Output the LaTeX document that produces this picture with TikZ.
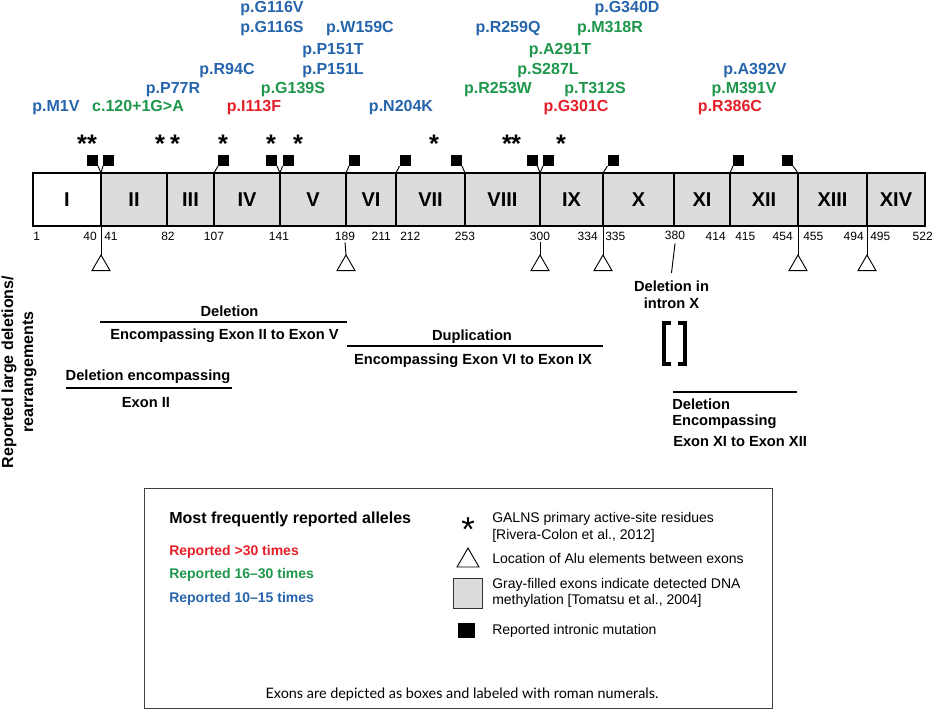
\documentclass[tikz,border=0pt]{standalone}
\usepackage{fontspec}
\setmainfont{Liberation Sans}
\newfontfamily\capfont{Lato}
\usetikzlibrary{shapes.geometric}
\definecolor{mblue}{RGB}{38,100,172}
\definecolor{mgreen}{RGB}{30,150,75}
\definecolor{mred}{RGB}{230,30,40}
\definecolor{exgray}{RGB}{220,220,220}
\begin{document}
\begin{tikzpicture}[x=0.75pt,y=-0.75pt,
  mut/.style={font=\fontsize{12}{14}\selectfont\bfseries, inner sep=0pt, anchor=base},
  exon/.style={draw, line width=0.9pt, fill=exgray, minimum height=39.75pt, inner sep=0pt, outer sep=0pt, anchor=west, font=\fontsize{15}{18}\selectfont\bfseries},
  num/.style={font=\fontsize{9}{11}\selectfont, inner sep=0pt},
  imut/.style={fill=black, minimum size=8.25pt, inner sep=0pt, outer sep=0pt},
  alu/.style={draw, line width=0.7pt, regular polygon, regular polygon sides=3, minimum size=15.6pt, inner sep=0pt, outer sep=0pt, anchor=corner 1},
  conn/.style={line width=0.7pt},
  ast/.style={font=\fontsize{19}{21}\selectfont\bfseries, inner sep=0pt, anchor=base},
  dl/.style={font=\fontsize{11}{12.75}\selectfont\bfseries, inner sep=0pt},
  bar/.style={line width=1.5pt},
  legt/.style={font=\fontsize{10.5}{12.75}\selectfont, inner sep=0pt, anchor=base west},
  legc/.style={font=\fontsize{10.5}{12.75}\selectfont\bfseries, inner sep=0pt, anchor=base west},
  brk/.style={line width=2.8pt}
]
\useasboundingbox (0,0) rectangle (933,711);

% ---------------- exons ----------------
\foreach \n/\a/\b/\lab/\f in {1/33/101/I/white, 2/101/167/II/exgray, 3/167/214/III/exgray,
  4/214/280/IV/exgray, 5/280/346/V/exgray, 6/346/396/VI/exgray, 7/396/465/VII/exgray,
  8/465/540/VIII/exgray, 9/540/603/IX/exgray, 10/603/674/X/exgray, 11/674/730/XI/exgray,
  12/730/798/XII/exgray, 13/798/867/XIII/exgray, 14/867/925/XIV/exgray}{
  \node[exon, fill=\f, minimum width={(\b-\a)*0.75pt}] (e\n) at (\a,199.5) {\lab};
}

% ---------------- numbers ----------------
\node[num, anchor=base west] (n1) at (33,240) {1};
\node[num, anchor=base east] (n40) at (97,240) {40};
\node[num, anchor=base west] (n41) at (104,240) {41};
\node[num, anchor=base] (n82) at (168,240) {82};
\node[num, anchor=base] (n107) at (214,240) {107};
\node[num, anchor=base] (n141) at (279,240) {141};
\node[num, anchor=base] (n189) at (345,240) {189};
\node[num, anchor=base east] (n211) at (391,240) {211};
\node[num, anchor=base west] (n212) at (400,240) {212};
\node[num, anchor=base] (n253) at (465,240) {253};
\node[num, anchor=base] (n300) at (540,240) {300};
\node[num, anchor=base east] (n334) at (598,240) {334};
\node[num, anchor=base west] (n335) at (605,240) {335};
\node[num, anchor=base] (n380) at (675,239) {380};
\node[num, anchor=base east] (n414) at (726,240) {414};
\node[num, anchor=base west] (n415) at (735,240) {415};
\node[num, anchor=base east] (n454) at (793,240) {454};
\node[num, anchor=base west] (n455) at (803,240) {455};
\node[num, anchor=base east] (n494) at (864,240) {494};
\node[num, anchor=base west] (n495) at (870,240) {495};
\node[num, anchor=base east] (n522) at (933,240) {522};

% ---------------- Alu elements ----------------
\node[alu] (t1) at (101,255) {};
\node[alu] (t2) at (346,255) {};
\node[alu] (t3) at (540,255) {};
\node[alu] (t4) at (603,255) {};
\node[alu] (t5) at (798,255) {};
\node[alu] (t6) at (867,255) {};
\draw[conn] (e1.south east) -- (t1.corner 1);
\draw[conn] ([yshift=-1.5pt]n189.south) -- (t2.corner 1);
\draw[conn] ([yshift=-1.5pt]n300.south) -- (t3.corner 1);
\draw[conn] (e9.south east) -- (t4.corner 1);
\draw[conn] (e12.south east) -- (t5.corner 1);
\draw[conn] (e13.south east) -- (t6.corner 1);

% ---------------- intronic mutations ----------------
\node[imut] (s1) at (92.5,160.5) {};
\node[imut] (s2) at (108.5,160.5) {};
\node[imut] (s3) at (223.5,160.5) {};
\node[imut] (s4) at (271.5,160.5) {};
\node[imut] (s5) at (288,160.5) {};
\node[imut] (s6) at (354.5,160.5) {};
\node[imut] (s7) at (405,160.5) {};
\node[imut] (s8) at (456.5,160.5) {};
\node[imut] (s9) at (532,160.5) {};
\node[imut] (s10) at (548.5,160.5) {};
\node[imut] (s11) at (613,160.5) {};
\node[imut] (s12) at (738.5,160.5) {};
\node[imut] (s13) at (787.5,160.5) {};
\draw[conn] (s1.south east) -- (e1.north east);
\draw[conn] (s2.south west) -- (e2.north west);
\draw[conn] (s3.south west) -- (e4.north west);
\draw[conn] (s4.south east) -- (e4.north east);
\draw[conn] (s5.south west) -- (e5.north west);
\draw[conn] (s6.south west) -- (e6.north west);
\draw[conn] (s7.south west) -- (e7.north west);
\draw[conn] (s8.south east) -- (e8.north west);
\draw[conn] (s9.south east) -- (e8.north east);
\draw[conn] (s10.south west) -- (e9.north west);
\draw[conn] (s11.south west) -- (e10.north west);
\draw[conn] (s12.south west) -- (e12.north west);
\draw[conn] (s13.south east) -- (e13.north west);

% ---------------- asterisks ----------------
\foreach \i/\x in {1/82,2/92,3/160,4/175,5/223,6/271,7/298,8/434,9/507,10/516,11/561}{
  \node[ast] (a\i) at (\x,152.5) {*};
}

% ---------------- mutation labels ----------------
\node[mut, mblue] (g116v) at (272,12.3) {p.G116V};
\node[mut, mblue] (g340d) at (627,12.3) {p.G340D};
\node[mut, mblue] (g116s) at (272,32.7) {p.G116S};
\node[mut, mblue] (w159c) at (360,32.7) {p.W159C};
\node[mut, mblue] (r259q) at (508,32.7) {p.R259Q};
\node[mut, mgreen] (m318r) at (610,32.7) {p.M318R};
\node[mut, mblue] (p151t) at (333,54) {p.P151T};
\node[mut, mgreen] (a291t) at (560,54) {p.A291T};
\node[mut, mblue] (r94c) at (227,74) {p.R94C};
\node[mut, mblue] (p151l) at (333,74) {p.P151L};
\node[mut, mgreen] (s287l) at (548,74) {p.S287L};
\node[mut, mblue] (a392v) at (755,74) {p.A392V};
\node[mut, mblue] (p77r) at (173,93.3) {p.P77R};
\node[mut, mgreen] (g139s) at (293,93.3) {p.G139S};
\node[mut, mgreen] (r253w) at (498,93.3) {p.R253W};
\node[mut, mgreen] (t312s) at (595,93.3) {p.T312S};
\node[mut, mgreen] (m391v) at (744,93.3) {p.M391V};
\node[mut, mblue] (m1v) at (56,111.7) {p.M1V};
\node[mut, mgreen] (c120) at (138,111.7) {c.120+1G>A};
\node[mut, mred] (i113f) at (254,111.7) {p.I113F};
\node[mut, mblue] (n204k) at (401,111.7) {p.N204K};
\node[mut, mred] (g301c) at (576,111.7) {p.G301C};
\node[mut, mred] (r386c) at (730,111.7) {p.R386C};

% ---------------- large deletions / rearrangements ----------------
\node[inner sep=0pt, rotate=90, align=center, font=\fontsize{12}{15}\selectfont\bfseries] (vt) at (19,372) {Reported large deletions/\\rearrangements};

\node[dl, anchor=base] (d1) at (229.5,316) {Deletion};
\coordinate (d1l) at (100,322); \coordinate (d1r) at (347,322);
\draw[bar] (d1l) -- (d1r);
\node[dl, anchor=base] (d1b) at (224.5,339.5) {Encompassing Exon II to Exon V};

\node[dl, anchor=base] (du) at (472,340) {Duplication};
\coordinate (dul) at (347,346); \coordinate (dur) at (603,346);
\draw[bar] (dul) -- (dur);
\node[dl, anchor=base] (dub) at (473,364) {Encompassing Exon VI to Exon IX};

\node[dl, anchor=base] (d2) at (148,380) {Deletion encompassing};
\coordinate (d2l) at (66,388); \coordinate (d2r) at (232,388);
\draw[bar] (d2l) -- (d2r);
\node[dl, anchor=base] (d2b) at (146,407) {Exon II};

\node[dl, align=center, anchor=north] (din) at (671.5,281) {Deletion in\\intron X};
\draw[conn] ([yshift=-3pt]n380.south) -- ([yshift=6pt]din.north);
\draw[brk] (671,323) -- (664,323) -- (664,364) -- (671,364);
\draw[brk] (678,323) -- (685,323) -- (685,364) -- (678,364);

\coordinate (d3l) at (673,392); \coordinate (d3r) at (797,392);
\draw[bar] (d3l) -- (d3r);
\node[dl, anchor=base west] (d3) at (672,409) {Deletion};
\node[dl, anchor=base west] (d3a) at (672,425) {Encompassing};
\node[dl, anchor=base west] (d3b) at (673,446) {Exon XI to Exon XII};

% ---------------- legend ----------------
\node[draw=black!75, line width=1.1pt, minimum width={(772-144)*0.75pt}, minimum height={(708-488)*0.75pt}, anchor=north west, inner sep=0pt] (leg) at (144,488) {};
\node[legc, font=\fontsize{12}{14}\selectfont\bfseries] (lt) at (169,523) {Most frequently reported alleles};
\node[legc, mred] (l30) at (169,555) {Reported >30 times};
\node[legc, mgreen] (l16) at (169,578) {Reported 16–30 times};
\node[legc, mblue] (l10) at (169,602) {Reported 10–15 times};

\node[ast, font=\fontsize{26}{28}\selectfont] (la) at (468,541) {*};
\node[legt] (lat) at (492,522) {GALNS primary active-site residues};
\node[legt] (lat2) at (492,539) {[Rivera-Colon et al., 2012]};
\node[alu, minimum size=19pt] (ltri) at (468,548) {};
\node[legt] (ltt) at (492,563) {Location of Alu elements between exons};
\node[draw=black!80, line width=0.9pt, fill=exgray, minimum width=21.75pt, minimum height=22.5pt, inner sep=0pt, anchor=north west] (lg) at (453,578) {};
\node[legt] (lgt) at (492,588) {Gray-filled exons indicate detected DNA};
\node[legt] (lgt2) at (492,604) {methylation [Tomatsu et al., 2004]};
\node[fill=black, minimum width=12.75pt, minimum height=11.25pt, inner sep=0pt, anchor=north west] (lb) at (458,623) {};
\node[legt] (lbt) at (492,634) {Reported intronic mutation};
\node[inner sep=0pt, anchor=base, font=\capfont\fontsize{10.8}{13}\selectfont] (lfoot) at (462,698) {Exons are depicted as boxes and labeled with roman numerals.};
\end{tikzpicture}
\end{document}
